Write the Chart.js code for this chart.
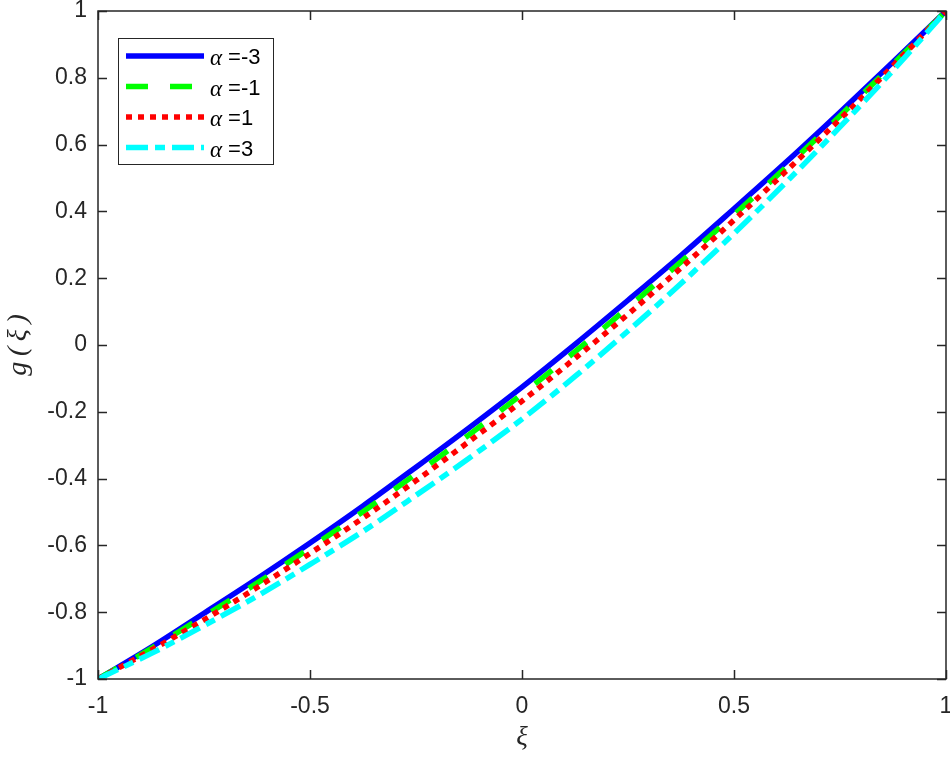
<!DOCTYPE html>
<html>
<head>
<meta charset="utf-8">
<script src="https://cdn.jsdelivr.net/npm/chart.js@4/dist/chart.umd.min.js"></script>
<style>
  html, body { margin: 0; padding: 0; background: #fff; }
  #wrap { width: 950px; height: 758px; }
</style>
</head>
<body>
<div id="wrap"><canvas id="plot" width="950" height="758"></canvas></div>
<script>
// values
const xi = [-1, -0.875, -0.75, -0.625, -0.5, -0.375, -0.25, -0.125, 0,
            0.125, 0.25, 0.375, 0.5, 0.625, 0.75, 0.875, 1];
const gAlphaM3 = [-1, -0.905, -0.803, -0.700, -0.593, -0.482, -0.366, -0.248, -0.126,
                  0.002, 0.134, 0.268, 0.408, 0.550, 0.697, 0.847, 1];
const gAlphaM1 = [-1, -0.909, -0.812, -0.713, -0.608, -0.499, -0.386, -0.269, -0.147,
                  -0.020, 0.112, 0.249, 0.390, 0.535, 0.686, 0.841, 1];
const gAlphaP1 = [-1, -0.914, -0.823, -0.726, -0.624, -0.518, -0.406, -0.289, -0.168,
                  -0.040, 0.092, 0.231, 0.374, 0.523, 0.676, 0.836, 1];
const gAlphaP3 = [-1, -0.924, -0.840, -0.752, -0.657, -0.558, -0.450, -0.339, -0.222,
                  -0.094, 0.042, 0.184, 0.334, 0.490, 0.653, 0.822, 1];
const seriesNames = ['=-3', '=-1', '=1', '=3'];
const xTicks = [-1, -0.5, 0, 0.5, 1];
const yTicks = [-1, -0.8, -0.6, -0.4, -0.2, 0, 0.2, 0.4, 0.6, 0.8, 1];

const axisColor = '#262626';
const toPts = (ys) => xi.map((x, i) => ({ x: x, y: ys[i] }));

const lineSets = [
    { values: gAlphaM3, color: '#0000ff', dash: [] },
    { values: gAlphaM1, color: '#00ff00', dash: [22, 22] },
    { values: gAlphaP1, color: '#ff0000', dash: [6, 6] },
    { values: gAlphaP3, color: '#00ffff', dash: [22, 7, 10, 7] }
];

// inward ticks, full box and legend, MATLAB style
const matlabAxes = {
    id: 'matlabAxes',
    afterDraw(chart) {
        const { ctx, chartArea: a, scales } = chart;
        const tl = 9;
        ctx.save();
        ctx.strokeStyle = axisColor;
        ctx.lineWidth = 1.5;
        ctx.beginPath();
        xTicks.forEach(v => {
            const px = Math.round(scales.x.getPixelForValue(v)) + 0.5;
            ctx.moveTo(px, a.bottom); ctx.lineTo(px, a.bottom - tl);
            ctx.moveTo(px, a.top); ctx.lineTo(px, a.top + tl);
        });
        yTicks.forEach(v => {
            const py = Math.round(scales.y.getPixelForValue(v)) + 0.5;
            ctx.moveTo(a.left, py); ctx.lineTo(a.left + tl, py);
            ctx.moveTo(a.right, py); ctx.lineTo(a.right - tl, py);
        });
        ctx.stroke();
        ctx.strokeRect(a.left, a.top, a.right - a.left, a.bottom - a.top);

        // legend
        const lx = a.left + 20, ly = a.top + 27, lw = 155, lh = 126;
        ctx.fillStyle = '#fff';
        ctx.fillRect(lx, ly, lw, lh);
        ctx.lineWidth = 1;
        ctx.strokeStyle = axisColor;
        ctx.strokeRect(lx + 0.5, ly + 0.5, lw, lh);
        chart.data.datasets.forEach((ds, i) => {
            const ry = ly + 18 + i * 30.5;
            ctx.beginPath();
            ctx.strokeStyle = ds.borderColor;
            ctx.lineWidth = ds.borderWidth;
            ctx.setLineDash(ds.borderDash || []);
            ctx.moveTo(lx + 8, ry);
            ctx.lineTo(lx + 86, ry);
            ctx.stroke();
            ctx.setLineDash([]);
            ctx.fillStyle = '#000';
            ctx.textBaseline = 'middle';
            ctx.font = 'italic 23px "Liberation Serif"';
            ctx.fillText('\u03b1', lx + 92, ry + 3);
            ctx.font = '22px "Liberation Sans"';
            ctx.fillText(' ' + seriesNames[i], lx + 104, ry + 2);
        });
        ctx.restore();
    }
};

const fmt = (v) => String(Number(Number(v).toFixed(2)));

new Chart(document.getElementById('plot'), {
    type: 'line',
    data: {
        datasets: lineSets.map((s, i) => ({
            label: '\u03b1 ' + seriesNames[i],
            data: toPts(s.values),
            borderColor: s.color,
            borderWidth: 5.5,
            borderDash: s.dash,
            borderCapStyle: 'butt',
            pointRadius: 0,
            cubicInterpolationMode: 'monotone',
            fill: false,
            order: lineSets.length - i
        }))
    },
    options: {
        responsive: false,
        animation: false,
        layout: { padding: { top: 11, right: 4, left: 0, bottom: 0 } },
        plugins: {
            legend: { display: false },
            tooltip: { enabled: false }
        },
        scales: {
            x: {
                type: 'linear',
                min: -1,
                max: 1,
                afterBuildTicks: (scale) => { scale.ticks = xTicks.map(v => ({ value: v })); },
                afterFit: (scale) => {
                    scale.height = 79;
                    scale.paddingLeft = 0;
                    scale.paddingRight = 0;
                },
                grid: { display: false, drawTicks: false },
                border: { display: false },
                ticks: {
                    padding: 14,
                    color: axisColor,
                    font: { family: 'Liberation Sans', size: 23 },
                    callback: fmt
                },
                title: {
                    display: true,
                    text: '\u03be',
                    color: axisColor,
                    font: { family: 'Liberation Serif', size: 27, style: 'italic' },
                    padding: { bottom: 4 }
                }
            },
            y: {
                min: -1,
                max: 1,
                afterBuildTicks: (scale) => { scale.ticks = yTicks.map(v => ({ value: v })); },
                afterFit: (scale) => {
                    scale.width = 98;
                    scale.paddingTop = 0;
                    scale.paddingBottom = 0;
                },
                grid: { display: false, drawTicks: false },
                border: { display: false },
                ticks: {
                    padding: 11,
                    color: axisColor,
                    font: { family: 'Liberation Sans', size: 23 },
                    callback: fmt
                },
                title: {
                    display: true,
                    text: 'g\u2009(\u2009\u03be\u2009)',
                    color: axisColor,
                    font: { family: 'Liberation Serif', size: 28, style: 'italic' },
                    padding: { top: 2 }
                }
            }
        }
    },
    plugins: [matlabAxes]
});
</script>
</body>
</html>
